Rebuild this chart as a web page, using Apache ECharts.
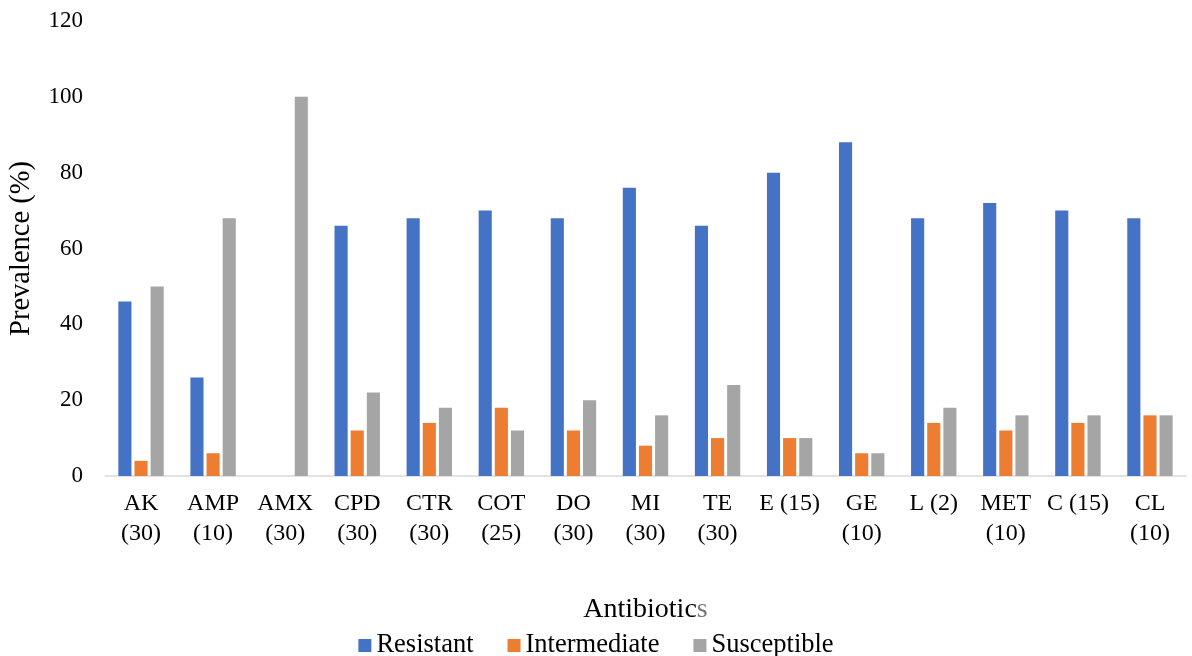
<!DOCTYPE html>
<html><head><meta charset="utf-8">
<script src="https://cdn.jsdelivr.net/npm/echarts@6/dist/echarts.min.js"></script>
<style>html,body{margin:0;padding:0;background:#fff}#c{width:1192px;height:656px}</style>
</head><body><div id="c"></div>
<script>
const categories = ['AK\n(30)','AMP\n(10)','AMX\n(30)','CPD\n(30)','CTR\n(30)','COT\n(25)','DO\n(30)','MI\n(30)','TE\n(30)','E (15)','GE\n(10)','L (2)','MET\n(10)','C (15)','CL\n(10)'];
const resistant    = [46,26,0,66,68,70,68,76,66,80,88,68,72,70,68];
const intermediate = [4,6,0,12,14,18,12,8,10,10,6,14,12,14,16];
const susceptible  = [50,68,100,22,18,12,20,16,24,10,6,18,16,16,16];
const yTicks = [0,20,40,60,80,100,120];

const font = '"Liberation Serif", "Times New Roman", serif';
const chart = echarts.init(document.getElementById('c'));
chart.setOption({
  animation:false,
  textStyle:{fontFamily:font},
  color:['#4472C4','#ED7D31','#A5A5A5'],
  grid:{left:105,right:6,top:21,bottom:180,containLabel:false,outerBoundsMode:'none'},
  legend:{
    top:627,left:'center',itemWidth:13,itemHeight:13,itemGap:34,icon:'rect',
    textStyle:{fontFamily:font,fontSize:26.5,color:'#000'},
    data:['Resistant','Intermediate','Susceptible']
  },
  xAxis:{
    type:'category',data:categories,
    name:'Antibiotic{g|s}',nameLocation:'middle',nameGap:120,
    nameTextStyle:{fontFamily:font,fontSize:28,color:'#000',rich:{g:{fontFamily:font,fontSize:28,color:'#777'}}},
    axisLine:{lineStyle:{color:'#d9d9d9',width:1.5}},
    axisTick:{show:false},
    axisLabel:{fontFamily:font,fontSize:24,color:'#000',lineHeight:30,margin:13,interval:0}
  },
  yAxis:{
    type:'value',min:0,max:120,interval:20,
    name:'Prevalence (%)',nameLocation:'middle',nameGap:69,nameRotate:90,
    nameTextStyle:{fontFamily:font,fontSize:28.5,color:'#000'},
    axisLine:{show:false},axisTick:{show:false},splitLine:{show:false},
    axisLabel:{fontFamily:font,fontSize:23,color:'#000',margin:22,
      formatter:v=>yTicks.includes(v)?String(v):''}
  },
  series:[
    {name:'Resistant',type:'bar',data:resistant,barGap:'23%',barCategoryGap:'37%'},
    {name:'Intermediate',type:'bar',data:intermediate},
    {name:'Susceptible',type:'bar',data:susceptible}
  ]
});
</script></body></html>
